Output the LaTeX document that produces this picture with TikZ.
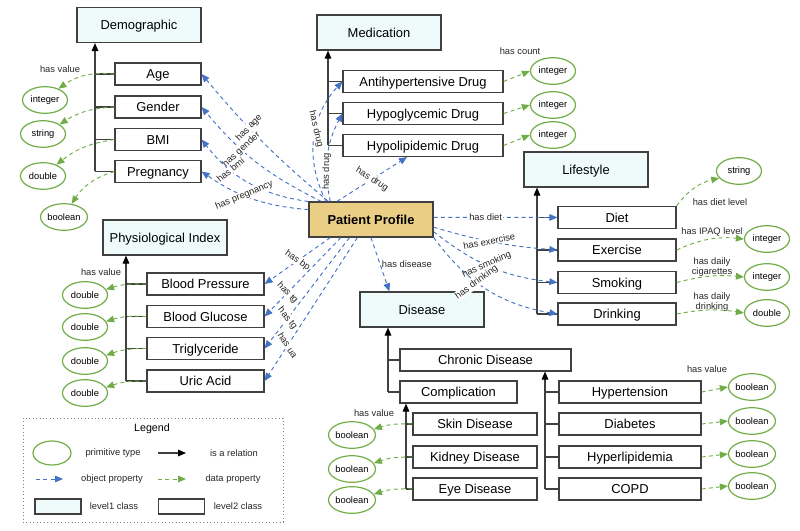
\documentclass[tikz,border=0pt]{standalone}
\usepackage{fontspec}
\setmainfont{Liberation Sans}
\usetikzlibrary{arrows.meta,shapes.geometric}

\definecolor{objblue}{RGB}{68,114,196}
\definecolor{datgreen}{RGB}{112,173,71}
\definecolor{lvlone}{RGB}{239,251,251}
\definecolor{ppgold}{RGB}{234,206,134}
\definecolor{boxgray}{RGB}{64,64,64}

\tikzset{
  boxfont/.style={font=\fontsize{9.7}{11}\selectfont,text height=6.9pt,text depth=0pt},
  smallfont/.style={font=\fontsize{7}{8}\selectfont},
  lvl1/.style={draw=boxgray,fill=lvlone,line width=0.9pt,minimum width=93pt,minimum height=26.25pt,inner sep=0pt,boxfont},
  lvl2/.style={draw=boxgray,fill=white,line width=0.9pt,minimum height=16.5pt,inner sep=0pt,boxfont},
  prim/.style={ellipse,draw=datgreen,line width=0.9pt,minimum width=33.75pt,minimum height=20pt,inner sep=0pt,smallfont},
  isa/.style={draw=boxgray,line width=0.8pt},
  isarrow/.style={isa,-{Triangle[length=6pt,width=5pt,color=black]}},
  obj/.style={draw=objblue,line width=0.7pt,dash pattern=on 3pt off 2.5pt,-{Triangle[length=6pt,width=5pt]}},
  dat/.style={draw=datgreen,line width=0.7pt,dash pattern=on 3pt off 2.5pt,-{Triangle[length=6pt,width=5pt]}},
  lbl/.style={smallfont,text=black!85,inner sep=1pt,align=center},
  elbl/.style={lbl,fill=white,inner sep=0.5pt},
}

\begin{document}
\begin{tikzpicture}[x=0.75pt,y=0.75pt,yscale=-1]
\useasboundingbox (0,0) rectangle (800,531);

% level1 classes
\node[lvl1] (demog) at (139,25) {Demographic};
\node[lvl1] (medic) at (379,32.5) {Medication};
\node[lvl1] (life) at (586,169.5) {Lifestyle};
\node[lvl1] (physio) at (165,237.5) {Physiological Index};
\node[lvl1] (disease) at (422,309.5) {Disease};
\node[lvl1,fill=ppgold,font=\fontsize{9.7}{11}\selectfont\bfseries] (patient) at (371,219.5) {Patient Profile};

% level2 classes
\node[lvl2,minimum width=64.5pt] (age) at (158,74) {Age};
\node[lvl2,minimum width=64.5pt] (gender) at (158,107) {Gender};
\node[lvl2,minimum width=64.5pt] (bmi) at (158,139.5) {BMI};
\node[lvl2,minimum width=64.5pt] (pregn) at (158,171.5) {Pregnancy};

\node[lvl2,minimum width=120pt] (antihyp) at (423,81.5) {Antihypertensive Drug};
\node[lvl2,minimum width=120pt] (hypogly) at (423,113.5) {Hypoglycemic Drug};
\node[lvl2,minimum width=120pt] (hypolip) at (423,145.5) {Hypolipidemic Drug};

\node[lvl2,minimum width=88.5pt] (diet) at (617,217.5) {Diet};
\node[lvl2,minimum width=88.5pt] (exer) at (617,250) {Exercise};
\node[lvl2,minimum width=88.5pt] (smok) at (617,282.5) {Smoking};
\node[lvl2,minimum width=88.5pt] (drink) at (617,314) {Drinking};

\node[lvl2,minimum width=87.75pt] (bp) at (205.5,284) {Blood Pressure};
\node[lvl2,minimum width=87.75pt] (gluc) at (205.5,316.5) {Blood Glucose};
\node[lvl2,minimum width=87.75pt] (trig) at (205.5,348.5) {Triglyceride};
\node[lvl2,minimum width=87.75pt] (uric) at (205.5,381) {Uric Acid};

\node[lvl2,minimum width=128.25pt] (chronic) at (485.5,360) {Chronic Disease};
\node[lvl2,minimum width=87.75pt] (compl) at (458.5,392) {Complication};
\node[lvl2,minimum width=93pt] (skin) at (475,424) {Skin Disease};
\node[lvl2,minimum width=93pt] (kidney) at (475,457) {Kidney Disease};
\node[lvl2,minimum width=93pt] (eye) at (475,489) {Eye Disease};
\node[lvl2,minimum width=106.5pt] (hypert) at (630,392) {Hypertension};
\node[lvl2,minimum width=106.5pt] (diab) at (630,424) {Diabetes};
\node[lvl2,minimum width=106.5pt] (hyperl) at (630,457) {Hyperlipidemia};
\node[lvl2,minimum width=106.5pt] (copd) at (630,489) {COPD};

% primitive types
\node[prim] (dint) at (45,100) {integer};
\node[prim] (dstr) at (43,134) {string};
\node[prim] (ddbl) at (43,176) {double};
\node[prim] (dbool) at (64,217) {boolean};
\node[prim] (mint1) at (553,71) {integer};
\node[prim] (mint2) at (553,105) {integer};
\node[prim] (mint3) at (553,135) {integer};
\node[prim] (lstr) at (739,171) {string};
\node[prim] (lint1) at (767,239) {integer};
\node[prim] (lint2) at (767,277) {integer};
\node[prim] (ldbl) at (767,313) {double};
\node[prim] (pdbl1) at (85,295) {double};
\node[prim] (pdbl2) at (85,327) {double};
\node[prim] (pdbl3) at (85,361) {double};
\node[prim] (pdbl4) at (85,393) {double};
\node[prim] (cbool1) at (352,435) {boolean};
\node[prim] (cbool2) at (352,469) {boolean};
\node[prim] (cbool3) at (352,500) {boolean};
\node[prim] (hbool1) at (752,387) {boolean};
\node[prim] (hbool2) at (752,421) {boolean};
\node[prim] (hbool3) at (752,454) {boolean};
\node[prim] (hbool4) at (752,486) {boolean};

% is a relations
\coordinate (dtrunk) at (95,0);
\coordinate (mtrunk) at (328,0);
\coordinate (ltrunk) at (537,0);
\coordinate (ptrunk) at (126,0);
\coordinate (ctrunk) at (388,0);
\coordinate (cotrunk) at (406,0);
\coordinate (chtrunk) at (545,0);
\draw[isarrow] (dtrunk |- pregn) -- (dtrunk |- demog.south);
\draw[isa] (dtrunk |- age) -- (age.west) (dtrunk |- gender) -- (gender.west) (dtrunk |- bmi) -- (bmi.west) (dtrunk |- pregn) -- (pregn.west);
\draw[isarrow] (mtrunk |- hypolip) -- (mtrunk |- medic.south);
\draw[isa] (mtrunk |- antihyp) -- (antihyp.west) (mtrunk |- hypogly) -- (hypogly.west) (mtrunk |- hypolip) -- (hypolip.west);
\draw[isarrow] (ltrunk |- drink) -- (ltrunk |- life.south);
\draw[isa] (ltrunk |- diet) -- (diet.west) (ltrunk |- exer) -- (exer.west) (ltrunk |- smok) -- (smok.west) (ltrunk |- drink) -- (drink.west);
\draw[isarrow] (ptrunk |- uric) -- (ptrunk |- physio.south);
\draw[isa] (ptrunk |- bp) -- (bp.west) (ptrunk |- gluc) -- (gluc.west) (ptrunk |- trig) -- (trig.west) (ptrunk |- uric) -- (uric.west);
\draw[isarrow] (ctrunk |- compl) -- (ctrunk |- disease.south);
\draw[isa] (ctrunk |- chronic) -- (chronic.west) (ctrunk |- compl) -- (compl.west);
\draw[isarrow] (cotrunk |- eye) -- (cotrunk |- compl.south);
\draw[isa] (cotrunk |- skin) -- (skin.west) (cotrunk |- kidney) -- (kidney.west) (cotrunk |- eye) -- (eye.west);
\draw[isarrow] (chtrunk |- copd) -- (chtrunk |- chronic.south);
\draw[isa] (chtrunk |- hypert) -- (hypert.west) (chtrunk |- diab) -- (diab.west) (chtrunk |- hyperl) -- (hyperl.west) (chtrunk |- copd) -- (copd.west);

% object properties
\draw[obj] (patient.157) to[bend right=5] node[elbl,sloped,pos=0.61] {has age} (age.east);
\draw[obj] (patient.160) to[bend right=12] node[elbl,sloped,pos=0.63] {has gender} (gender.east);
\draw[obj] (patient.164) to[bend right=22] node[elbl,sloped,pos=0.68] {has bmi} (bmi.east);
\draw[obj] (patient.171) to[bend right=15] node[elbl,sloped,pos=0.58] {has pregnancy} (pregn.east);
\draw[obj] (patient.158) to[bend right=35] node[elbl,sloped,pos=0.58] {has drug} (antihyp.west);
\draw[obj] (patient.156) to[bend right=20] node[elbl,sloped,pos=0.32] {has drug} (hypogly.west);
\draw[obj] (patient.152) -- node[elbl,sloped,pos=0.5] {has drug} (hypolip.216);
\draw[obj] (patient.2) -- node[elbl,pos=0.42] {has diet} (diet.west);
\draw[obj] (patient.-7) to[bend left=6] node[elbl,sloped,pos=0.45] {has exercise} (exer.west);
\draw[obj] (patient.-11) to[bend left=16] node[elbl,sloped,pos=0.46] {has smoking} (smok.west);
\draw[obj] (patient.-16) to[bend left=22] node[elbl,sloped,pos=0.41] {has drinking} (drink.west);
\draw[obj] (patient.south) -- node[lbl,right,pos=0.5] {has disease} (disease.151);
\draw[obj] (patient.204) -- node[elbl,sloped,pos=0.5] {has bp} (bp.east);
\draw[obj] (patient.211) -- node[elbl,sloped,pos=0.7] {has tg} (gluc.east);
\draw[obj] (patient.220) -- node[elbl,sloped,pos=0.73] {has tg} (trig.east);
\draw[obj] (patient.233) -- node[elbl,sloped,pos=0.75] {has ua} (uric.east);

% data properties
\draw[dat] (age.west) to[bend left=20] (dint.40);
\draw[dat] (gender.west) to[bend left=15] (dstr.30);
\draw[dat] (bmi.west) to[bend left=15] (ddbl.40);
\draw[dat] (pregn.west) to[bend left=20] (dbool.60);
\draw[dat] (antihyp.east) -- (mint1.west);
\draw[dat] (hypogly.east) -- (mint2.west);
\draw[dat] (hypolip.east) -- (mint3.west);
\draw[dat] (diet.north east) to[bend right=20] (lstr.200);
\draw[dat] (exer.east) to[bend right=15] (lint1.west);
\draw[dat] (smok.east) to[bend right=10] (lint2.west);
\draw[dat] (drink.east) to[bend right=10] (ldbl.west);
\draw[dat] (bp.west) to[bend left=10] (pdbl1.15);
\draw[dat] (gluc.west) to[bend left=10] (pdbl2.15);
\draw[dat] (trig.west) to[bend left=10] (pdbl3.15);
\draw[dat] (uric.west) to[bend left=10] (pdbl4.15);
\draw[dat] (skin.west) to[bend left=10] (cbool1.15);
\draw[dat] (kidney.west) to[bend left=10] (cbool2.15);
\draw[dat] (eye.west) to[bend left=10] (cbool3.15);
\draw[dat] (hypert.east) -- (hbool1.west);
\draw[dat] (diab.east) -- (hbool2.west);
\draw[dat] (hyperl.east) -- (hbool3.west);
\draw[dat] (copd.east) -- (hbool4.west);

% data property names
\node[lbl] (dval) at (60,69) {has value};
\node[lbl] (mcount) at (520,51) {has count};
\node[lbl] (ldiet) at (720,202) {has diet level};
\node[lbl] (lipaq) at (712,232) {has IPAQ level};
\node[lbl] (lcig) at (712,267) {has daily\\cigarettes};
\node[lbl] (ldrink) at (712,302) {has daily\\drinking};
\node[lbl] (pval) at (101,272) {has value};
\node[lbl] (cval) at (374,413) {has value};
\node[lbl] (hval) at (707,369) {has value};

% legend
\node[draw=black!50,dotted,line width=0.6pt,minimum width=195pt,minimum height=78pt] (legend) at (153,470) {};
\node[font=\fontsize{8}{9}\selectfont] (legtitle) at (152,429) {Legend};
\node[prim,minimum width=28.5pt,minimum height=18pt] (legprim) at (52,453) {};
\node[lbl] (legprimtxt) at (113,453) {primitive type};
\coordinate (legisaa) at (158,453);
\coordinate (legisab) at (186,453);
\draw[isarrow] (legisaa) -- (legisab);
\node[lbl] (legisatxt) at (234,453) {is a relation};
\coordinate (legobja) at (36,479);
\coordinate (legobjb) at (63,479);
\draw[obj] (legobja) -- (legobjb);
\node[lbl] (legobjtxt) at (112,479) {object property};
\coordinate (legdata) at (158,479);
\coordinate (legdatb) at (186,479);
\draw[dat] (legdata) -- (legdatb);
\node[lbl] (legdattxt) at (233,479) {data property};
\node[lvl1,minimum width=34.5pt,minimum height=11.25pt] (legone) at (58,506.5) {};
\node[lbl] (legonetxt) at (114,506) {level1 class};
\node[lvl2,minimum width=35pt,minimum height=11.25pt] (legtwo) at (181.5,506.5) {};
\node[lbl] (legtwotxt) at (238,506) {level2 class};
\end{tikzpicture}
\end{document}
